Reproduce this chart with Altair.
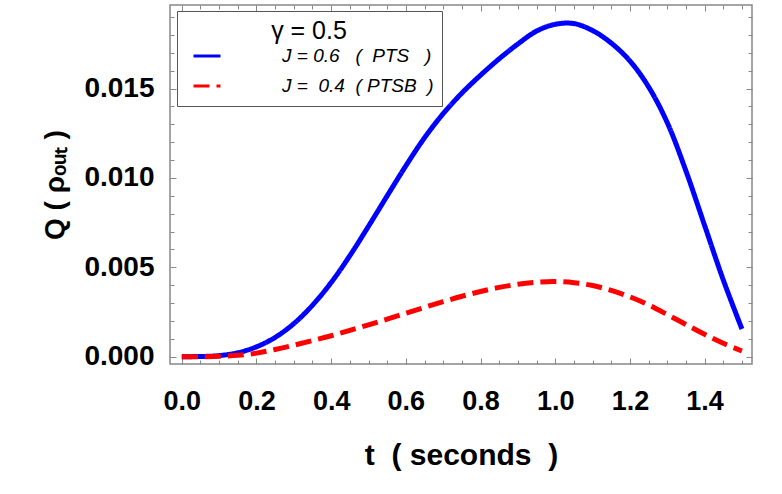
import altair as alt
import pandas as pd

# ---- data ----
t_vals = [0.00, 0.05, 0.10, 0.15, 0.20, 0.25, 0.30, 0.35, 0.40, 0.45,
          0.50, 0.55, 0.60, 0.65, 0.70, 0.75, 0.80, 0.85, 0.90, 0.95,
          1.00, 1.05, 1.10, 1.15, 1.20, 1.25, 1.30, 1.35, 1.40, 1.45, 1.50]
q_pts = [0.00000, 0.00001, 0.00006, 0.00022, 0.00055, 0.00108, 0.00185, 0.00288, 0.00415, 0.00565,
         0.00730, 0.00900, 0.01068, 0.01225, 0.01360, 0.01475, 0.01575, 0.01667, 0.01750, 0.01822,
         0.01860, 0.01864, 0.01825, 0.01755, 0.01655, 0.01510, 0.01310, 0.01040, 0.00735, 0.00430, 0.00155]
q_ptsb = [0.00000, 0.00000, 0.00002, 0.00008, 0.00020, 0.00040, 0.00064, 0.00090, 0.00117, 0.00147,
          0.00178, 0.00210, 0.00243, 0.00276, 0.00308, 0.00338, 0.00365, 0.00388, 0.00405, 0.00416,
          0.00420, 0.00414, 0.00398, 0.00371, 0.00335, 0.00290, 0.00236, 0.00180, 0.00125, 0.00075, 0.00032]
NB = "\u00a0"
series_names = ["J = 0.6" + NB * 3 + "(" + NB * 2 + "PTS" + NB * 3 + ")",
                "J =" + NB * 2 + "0.4" + NB * 2 + "(" + NB + "PTSB" + NB * 2 + ")"]
legend_title = "γ = 0.5"
x_title = "t" + NB * 2 + "(" + NB + "seconds" + NB * 2 + ")"
y_title = "Q" + NB + "(" + NB + "ρₒᵤₜ" + NB + ")"

x_major = [0.0, 0.2, 0.4, 0.6, 0.8, 1.0, 1.2, 1.4]
x_minor = [0.0, 0.05, 0.1, 0.15, 0.2, 0.25, 0.3, 0.35, 0.4, 0.45, 0.5, 0.55, 0.6, 0.65, 0.7,
           0.75, 0.8, 0.85, 0.9, 0.95, 1.0, 1.05, 1.1, 1.15, 1.2, 1.25, 1.3, 1.35, 1.4, 1.45, 1.5]
y_major = [0.0, 0.005, 0.010, 0.015]
y_minor = [0.0, 0.001, 0.002, 0.003, 0.004, 0.005, 0.006, 0.007, 0.008, 0.009, 0.010,
           0.011, 0.012, 0.013, 0.014, 0.015, 0.016, 0.017, 0.018, 0.019]

rows = []
for name, vals in zip(series_names, [q_pts, q_ptsb]):
    for t, q in zip(t_vals, vals):
        rows.append({"t": t, "Q": q, "series": name})
df = pd.DataFrame(rows)

FONT = "Liberation Sans"
TICK = "#888888"
xscale = alt.Scale(domain=[-0.0316, 1.527], nice=False, zero=False)
yscale = alt.Scale(domain=[-0.00041, 0.01968], nice=False, zero=False)


def xaxis(orient, values, size, labels=False, title=""):
    kw = dict(orient=orient, values=values, tickSize=size, offset=-size, domain=False,
              grid=False, tickColor=TICK, tickWidth=1, labels=labels, title=title)
    if labels:
        kw.update(format=".1f", labelFont=FONT, labelFontSize=27, labelFontWeight="bold",
                  labelColor="black", labelPadding=24, labelFlush=False, labelOverlap=False,
                  titleFont=FONT, titleFontSize=30, titleFontWeight="bold", titleColor="black",
                  titlePadding=26)
    return alt.Axis(**kw)


def yaxis(orient, values, size, labels=False, title=""):
    kw = dict(orient=orient, values=values, tickSize=size, offset=-size, domain=False,
              grid=False, tickColor=TICK, tickWidth=1, labels=labels, title=title)
    if labels:
        kw.update(format=".3f", labelFont=FONT, labelFontSize=28, labelFontWeight="bold",
                  labelColor="black", labelPadding=16, labelFlush=False, labelOverlap=False,
                  titleFont=FONT, titleFontSize=28, titleFontWeight="bold", titleColor="black",
                  titlePadding=14)
    return alt.Axis(**kw)


base = alt.Chart(df)

lines = base.mark_line(strokeWidth=5, interpolate="catmull-rom").encode(
    x=alt.X("t:Q", scale=xscale,
            axis=xaxis("bottom", x_major, 6, labels=True, title=x_title)),
    y=alt.Y("Q:Q", scale=yscale,
            axis=yaxis("left", y_major, 6, labels=True, title=y_title)),
    color=alt.Color("series:N",
                    scale=alt.Scale(domain=series_names, range=["#0000FF", "#FF0000"]),
                    legend=alt.Legend(title=legend_title)),
    strokeDash=alt.StrokeDash("series:N",
                              scale=alt.Scale(domain=series_names, range=[[1, 0], [16, 7]]),
                              legend=alt.Legend(title=legend_title)),
)

ghost1 = base.mark_line(opacity=0).encode(
    x=alt.X("t:Q", scale=xscale, axis=xaxis("top", x_major, 6)),
    y=alt.Y("Q:Q", scale=yscale, axis=yaxis("right", y_major, 6)),
    detail="series:N",
)
ghost2 = base.mark_line(opacity=0).encode(
    x=alt.X("t:Q", scale=xscale, axis=xaxis("bottom", x_minor, 4)),
    y=alt.Y("Q:Q", scale=yscale, axis=yaxis("left", y_minor, 4)),
    detail="series:N",
)
ghost3 = base.mark_line(opacity=0).encode(
    x=alt.X("t:Q", scale=xscale, axis=xaxis("top", x_minor, 4)),
    y=alt.Y("Q:Q", scale=yscale, axis=yaxis("right", y_minor, 4)),
    detail="series:N",
)

chart = alt.layer(ghost2, ghost3, ghost1, lines).resolve_axis(
    x="independent", y="independent"
).properties(
    width=582, height=359,
    autosize=alt.AutoSizeParams(type="none"),
    padding={"left": 170, "top": 5, "right": 30, "bottom": 130},
).configure_view(
    stroke="#888888", strokeWidth=1.5
).configure_legend(
    orient="none", legendX=7, legendY=6,
    strokeColor="#555555", fillColor="white", padding=8,
    titleFont=FONT, titleFontSize=25, titleFontWeight="normal", titleColor="black",
    titleAnchor="middle", titlePadding=0,
    labelFont=FONT, labelFontSize=19, labelFontStyle="italic", labelColor="black",
    labelOffset=60, labelLimit=400, symbolType="stroke", symbolSize=729, symbolStrokeWidth=3,
    symbolOffset=7, rowPadding=6, clipHeight=24,
)

chart.save("out.html", embed_options={"renderer": "svg", "actions": False})
